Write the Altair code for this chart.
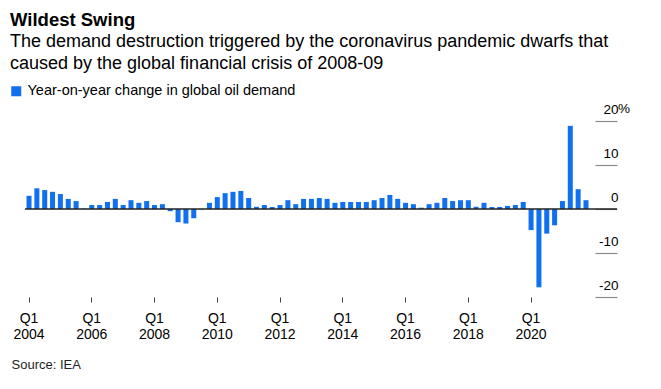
import altair as alt
import pandas as pd

FONT = "Liberation Sans, Arial, sans-serif"
BLUE = "#1070F0"

years = list(range(2004, 2022))
quarter_names = ["Q1", "Q2", "Q3", "Q4"]
quarters = [f"{y} {q}" for y in years for q in quarter_names]

# Year-on-year change in global oil demand, %
values = [
    3.0, 4.7, 4.3, 3.9,    # 2004
    3.4, 2.3, 1.8, 0.1,    # 2005
    0.9, 0.9, 1.6, 2.3,    # 2006
    0.9, 2.0, 1.4, 1.8,    # 2007
    0.9, 1.1, -0.5, -3.0,  # 2008
    -3.3, -2.1, -0.1, 1.4, # 2009
    2.7, 3.6, 3.9, 4.1,    # 2010
    2.5, 0.5, 0.9, 0.45,   # 2011
    0.9, 2.0, 1.1, 2.3,    # 2012
    2.3, 2.5, 2.3, 1.4,    # 2013
    1.6, 1.6, 1.6, 1.6,    # 2014
    2.0, 2.5, 3.2, 2.3,    # 2015
    1.4, 1.1, 0.3, 1.1,    # 2016
    1.4, 2.5, 1.8, 2.0,    # 2017
    2.0, 0.5, 1.4, 0.45,   # 2018
    0.45, 0.7, 0.9, 1.6,   # 2019
    -4.8, -17.8, -5.6, -3.7,  # 2020
    1.8, 18.9, 4.5, 2.0,   # 2021
]

series_name = "Year-on-year change in global oil demand"
x_tick_values = [f"{y} Q1" for y in range(2004, 2021, 2)]
y_tick_values = [-20, -10, 0, 10, 20]
zero_value = [0]
percent_at = [20]

title_text = "Wildest Swing"
subtitle_lines = [
    "The demand destruction triggered by the coronavirus pandemic dwarfs that",
    "caused by the global financial crisis of 2008-09",
]
source_text = "Source: IEA"

df = pd.DataFrame({"quarter": quarters, "change": values, "series": series_name})
zero_df = pd.DataFrame({"z": zero_value})
pct_df = pd.DataFrame({"p": percent_at, "t": ["%"]})

W = 567
H = 176

yscale = alt.Scale(domain=[-20, 20], nice=False)

bars = alt.Chart(df).mark_bar().encode(
    x=alt.X(
        "quarter:O",
        sort=quarters,
        scale=alt.Scale(paddingInner=0.36, paddingOuter=0.32),
        axis=alt.Axis(
            values=x_tick_values,
            labelExpr="['Q1', substring(datum.value, 0, 4)]",
            labelAngle=0,
            domain=False,
            ticks=True,
            tickSize=5,
            tickColor="#444",
            tickWidth=1,
            labelFont=FONT,
            labelFontSize=14,
            labelColor="#000",
            labelLineHeight=16.5,
            labelPadding=9,
            labelBaseline="top",
            title=source_text,
            titleFont=FONT,
            titleFontSize=13,
            titleFontWeight="normal",
            titleColor="#222",
            titleX=-13,
            titleY=71.5,
            titleAlign="left",
            titleBaseline="alphabetic",
        ),
    ),
    y=alt.Y(
        "change:Q",
        scale=yscale,
        axis=alt.Axis(
            orient="right",
            offset=4,
            values=y_tick_values,
            labelExpr="datum.value + ''",
            grid=False,
            domain=False,
            ticks=True,
            tickSize=22,
            tickColor="#8a8a8a",
            tickWidth=1.2,
            labelAlign="right",
            labelBaseline="alphabetic",
            labelPadding=1,
            labelOffset=-8,
            labelFlush=False,
            labelOverlap=False,
            labelFont=FONT,
            labelFontSize=13.5,
            labelColor="#000",
            title=None,
        ),
    ),
    color=alt.Color(
        "series:N",
        scale=alt.Scale(range=[BLUE]),
        legend=alt.Legend(
            title=None,
            orient="none",
            legendX=-15,
            legendY=-37,
            symbolType="square",
            symbolSize=100,
            symbolStrokeWidth=0,
            labelFont=FONT,
            labelFontSize=14.5,
            labelColor="#000",
            labelLimit=0,
            labelOffset=4,
            padding=0,
        ),
    ),
)

zero = alt.Chart(zero_df).mark_rule(color="#222", strokeWidth=1.5).encode(
    y=alt.Y("z:Q", scale=yscale, title=None),
    x=alt.value(1),
    x2=alt.value(W + 26),
)

pct = alt.Chart(pct_df).mark_text(
    align="left", baseline="alphabetic", dy=-8, font=FONT, fontSize=13.5, color="#000"
).encode(
    y=alt.Y("p:Q", scale=yscale, title=None),
    x=alt.value(W + 27),
    text="t:N",
)

chart = alt.layer(bars, zero, pct).properties(
    width=W,
    height=H,
    autosize=alt.AutoSizeParams(type="none"),
    padding={"left": 16, "top": 113, "right": 62, "bottom": 80},
    title=alt.TitleParams(
        text=title_text,
        subtitle=subtitle_lines,
        anchor="start",
        frame="group",
        dx=-14,
        offset=11,
        font=FONT,
        fontSize=18.5,
        fontWeight="bold",
        color="#000",
        subtitleFont=FONT,
        subtitleFontSize=18,
        subtitleColor="#000",
        subtitleLineHeight=22,
        subtitlePadding=4,
    ),
).configure_view(stroke=None)

chart.save("out.html", embed_options={"renderer": "svg", "actions": False})
